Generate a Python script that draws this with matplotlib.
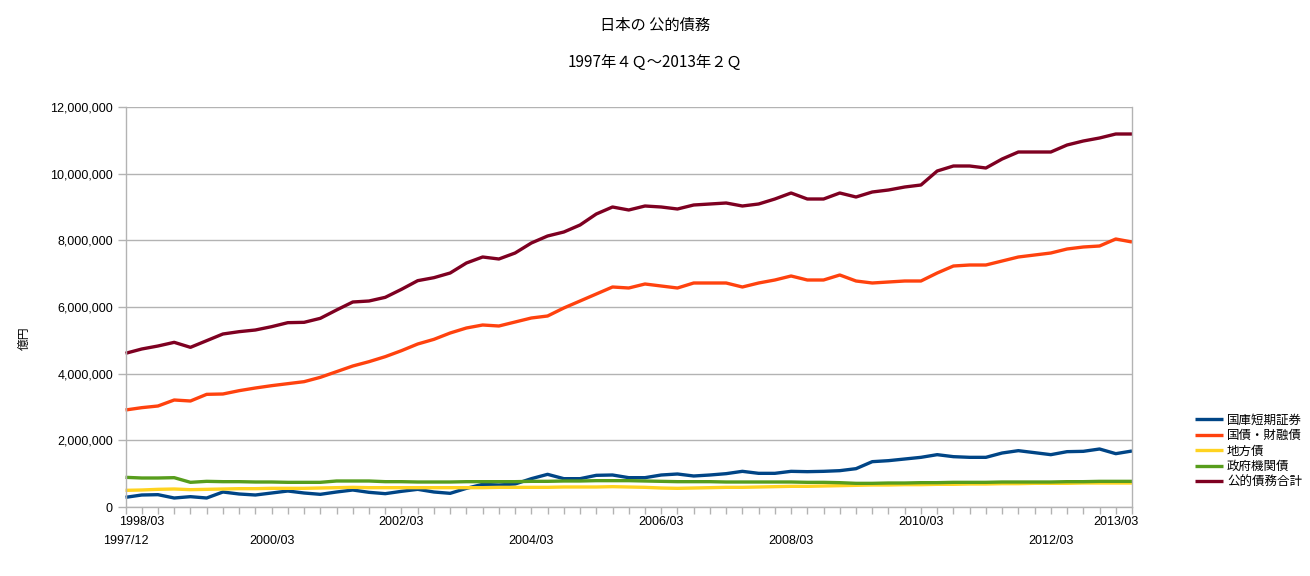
import matplotlib
matplotlib.use("Agg")
import matplotlib.pyplot as plt
from matplotlib.ticker import FuncFormatter, FixedLocator

plt.rcParams['font.family'] = ['Liberation Sans', 'Noto Sans CJK JP', 'DejaVu Sans']

# ---- data (values in 億円 / 1e6, quarterly 1997Q4 .. 2013Q2) ----
series_names = ["国庫短期証券", "国債・財融債", "地方債", "政府機関債", "公的債務合計"]
colors = ["#004586", "#ff420e", "#ffd320", "#579d1c", "#7e0021"]

tbills = [0.29, 0.36, 0.37, 0.27, 0.31, 0.27, 0.45, 0.39, 0.36, 0.42,
          0.48, 0.42, 0.38, 0.45, 0.51, 0.44, 0.40, 0.47, 0.53, 0.45,
          0.41, 0.56, 0.68, 0.66, 0.69, 0.85, 0.98, 0.85, 0.85, 0.95,
          0.96, 0.88, 0.88, 0.96, 0.99, 0.93, 0.96, 1.00, 1.07, 1.01,
          1.01, 1.07, 1.06, 1.07, 1.09, 1.15, 1.36, 1.39, 1.44, 1.49,
          1.57, 1.51, 1.49, 1.49, 1.62, 1.69, 1.63, 1.57, 1.66, 1.67,
          1.74, 1.60, 1.68]
jgbs = [2.91, 2.98, 3.03, 3.21, 3.18, 3.38, 3.39, 3.49, 3.57, 3.64,
        3.70, 3.76, 3.89, 4.06, 4.23, 4.36, 4.51, 4.69, 4.89, 5.03,
        5.22, 5.37, 5.46, 5.43, 5.55, 5.67, 5.73, 5.97, 6.18, 6.39,
        6.60, 6.57, 6.69, 6.63, 6.57, 6.72, 6.72, 6.72, 6.60, 6.72,
        6.81, 6.93, 6.81, 6.81, 6.96, 6.78, 6.72, 6.75, 6.78, 6.78,
        7.02, 7.23, 7.26, 7.26, 7.38, 7.50, 7.56, 7.62, 7.74, 7.80,
        7.83, 8.04, 7.95]
local = [0.50, 0.51, 0.53, 0.54, 0.52, 0.53, 0.54, 0.55, 0.55, 0.56,
         0.56, 0.56, 0.57, 0.58, 0.59, 0.58, 0.58, 0.58, 0.58, 0.58,
         0.58, 0.58, 0.58, 0.59, 0.59, 0.59, 0.59, 0.60, 0.60, 0.60,
         0.61, 0.60, 0.59, 0.57, 0.56, 0.57, 0.58, 0.59, 0.59, 0.60,
         0.61, 0.62, 0.62, 0.63, 0.64, 0.65, 0.66, 0.66, 0.67, 0.67,
         0.68, 0.68, 0.69, 0.69, 0.70, 0.70, 0.71, 0.71, 0.71, 0.72,
         0.72, 0.72, 0.72]
agency = [0.89, 0.87, 0.87, 0.88, 0.74, 0.77, 0.76, 0.76, 0.75, 0.75,
          0.74, 0.74, 0.74, 0.78, 0.78, 0.78, 0.76, 0.76, 0.75, 0.75,
          0.75, 0.76, 0.76, 0.76, 0.76, 0.77, 0.77, 0.78, 0.78, 0.79,
          0.79, 0.79, 0.78, 0.77, 0.76, 0.76, 0.76, 0.75, 0.75, 0.75,
          0.75, 0.75, 0.74, 0.74, 0.73, 0.71, 0.71, 0.72, 0.72, 0.73,
          0.73, 0.74, 0.74, 0.74, 0.75, 0.75, 0.75, 0.75, 0.76, 0.76,
          0.77, 0.77, 0.77]
total = [4.61, 4.74, 4.83, 4.94, 4.79, 4.99, 5.19, 5.26, 5.31, 5.41,
         5.53, 5.54, 5.66, 5.91, 6.15, 6.18, 6.29, 6.53, 6.79, 6.88,
         7.02, 7.32, 7.50, 7.44, 7.62, 7.92, 8.13, 8.25, 8.46, 8.79,
         9.00, 8.91, 9.03, 9.00, 8.94, 9.06, 9.09, 9.12, 9.03, 9.09,
         9.24, 9.42, 9.24, 9.24, 9.42, 9.30, 9.45, 9.51, 9.60, 9.66,
         10.08, 10.23, 10.23, 10.17, 10.44, 10.65, 10.65, 10.65, 10.86, 10.98,
         11.07, 11.19, 11.19]

# shown category labels: (index, label, row)  row 0 = upper, 1 = lower
cat_labels = [(0, "1997/12", 1), (1, "1998/03", 0), (9, "2000/03", 1),
              (17, "2002/03", 0), (25, "2004/03", 1), (33, "2006/03", 0),
              (41, "2008/03", 1), (49, "2010/03", 0), (57, "2012/03", 1),
              (61, "2013/03", 0)]

title = "日本の 公的債務"
subtitle = "1997年４Ｑ〜2013年２Ｑ"
ylabel = "億円"
yticks = [0, 2, 4, 6, 8, 10, 12]

# ---- figure ----
W, H = 1310, 576
fig = plt.figure(figsize=(W / 100, H / 100), dpi=100)
left, right, top, bottom = 125.5, 1132, 107, 507
ax = fig.add_axes([left / W, 1 - bottom / H, (right - left) / W, (bottom - top) / H])

all_series = [tbills, jgbs, local, agency, total]
n = len(total)
x = list(range(n))
lines = []
for vals, name, c in zip(all_series, series_names, colors):
    ln, = ax.plot(x, [v * 1e6 for v in vals], color=c, lw=2.4, label=name,
                  solid_joinstyle='round', solid_capstyle='butt', clip_on=False)
    lines.append(ln)

ax.set_xlim(0, n - 1)
ax.set_ylim(0, 12e6)
ax.set_yticks([v * 1e6 for v in yticks])
ax.yaxis.set_major_formatter(FuncFormatter(lambda v, p: f"{int(round(v)):,}"))
ax.grid(axis='y', color='#b3b3b3', lw=1.0)
ax.set_axisbelow(True)

ax.xaxis.set_major_locator(FixedLocator(x))
ax.set_xticklabels([])
ax.tick_params(axis='x', direction='out', length=5, width=1, color='#b3b3b3')
ax.tick_params(axis='y', direction='out', length=6, width=1, color='#b3b3b3',
               labelsize=9, pad=3)
for s in ['left', 'bottom', 'right', 'top']:
    ax.spines[s].set_color('#b3b3b3')
    ax.spines[s].set_linewidth(1.0)
ax.spines['top'].set_visible(False)

for idx, lab, row in cat_labels:
    ypx = 522 if row == 0 else 541
    xf = (left + idx * (right - left) / (n - 1)) / W
    fig.text(xf, 1 - ypx / H, lab, fontsize=9, ha='center', va='center')

fig.text(655 / W, 1 - 25 / H, title, fontsize=11, ha='center', va='center',
         family=['Noto Sans CJK JP', 'DejaVu Sans'])
fig.text(655 / W, 1 - 62 / H, subtitle, fontsize=11, ha='center', va='center',
         family=['Noto Sans CJK JP', 'DejaVu Sans'])
fig.text(24 / W, 1 - 338 / H, ylabel, fontsize=8.5, rotation=90, ha='center',
         va='center', family=['Noto Sans CJK JP', 'DejaVu Sans'])

leg = fig.legend(handles=lines, loc='center left',
                 bbox_to_anchor=(1195 / W, 1 - 451 / H), frameon=False,
                 handlelength=2.2, handletextpad=0.35,
                 labelspacing=0.2, borderpad=0, borderaxespad=0,
                 prop={'family': ['Noto Sans CJK JP', 'DejaVu Sans'], 'size': 9})

fig.savefig("out.png", dpi=100)
